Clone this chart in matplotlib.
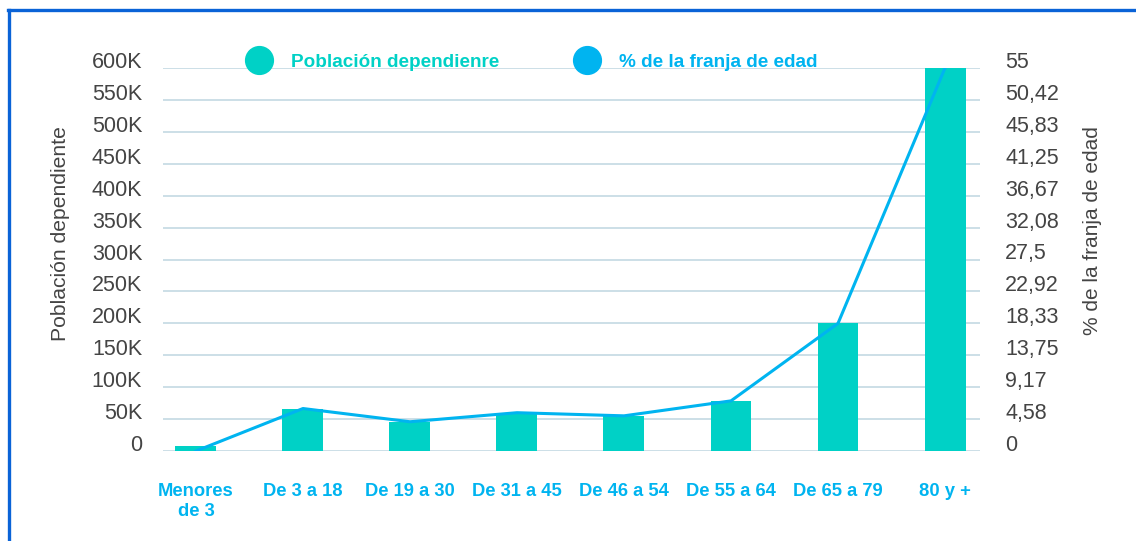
import matplotlib
matplotlib.use("Agg")
import matplotlib.pyplot as plt
from matplotlib.lines import Line2D
import numpy as np

categories = ["Menores\nde 3", "De 3 a 18", "De 19 a 30", "De 31 a 45",
              "De 46 a 54", "De 55 a 64", "De 65 a 79", "80 y +"]
poblacion = [8000, 66000, 46000, 59500, 55000, 78000, 200000, 600000]
porcentaje = [0.0, 6.1, 4.2, 5.5, 5.05, 7.2, 18.33, 55.0]

left_ticks = [0, 50000, 100000, 150000, 200000, 250000, 300000, 350000,
              400000, 450000, 500000, 550000, 600000]
left_labels = ["0", "50K", "100K", "150K", "200K", "250K", "300K", "350K",
               "400K", "450K", "500K", "550K", "600K"]
right_labels = ["0", "4,58", "9,17", "13,75", "18,33", "22,92", "27,5",
                "32,08", "36,67", "41,25", "45,83", "50,42", "55"]

BAR = "#00D1C6"
LINE = "#00B4F0"
GRID = "#C8DCE5"
TXT = "#444444"

plt.rcParams['font.family'] = ['Liberation Sans', 'DejaVu Sans']

W, H = 1136, 541
fig = plt.figure(figsize=(W / 100, H / 100), dpi=100)
ax = fig.add_axes([163 / W, 1 - 451 / H, (980 - 163) / W, (451 - 68) / H])

x = np.arange(len(categories))
ax.bar(x, poblacion, width=0.383, color=BAR, zorder=2, label="Población dependienre")
ax.set_xlim(-0.308, 7.327)
ax.set_ylim(0, 600000)
ax.set_yticks(left_ticks)
ax.set_yticklabels(left_labels)
ax.yaxis.grid(True, color=GRID, linewidth=1.3)
ax.set_axisbelow(True)
for s in ax.spines.values():
    s.set_visible(False)
ax.tick_params(axis='y', length=0, pad=15, labelsize=15.5, labelcolor=TXT)
for t in ax.get_yticklabels():
    t.set_verticalalignment('baseline')
ax.tick_params(axis='x', length=0, pad=23)
ax.set_xticks(x)
ax.set_xticklabels(categories, fontsize=13.2, fontweight='bold', color=LINE,
                   linespacing=1.25)

ax2 = ax.twinx()
ax2.plot(x, porcentaje, color=LINE, linewidth=2.2, zorder=3,
         label="% de la franja de edad")
ax2.set_ylim(0, 55)
ax2.set_yticks(np.linspace(0, 55, 13))
ax2.set_yticklabels(right_labels)
for s in ax2.spines.values():
    s.set_visible(False)
ax2.tick_params(axis='y', length=0, pad=18, labelsize=15.5, labelcolor=TXT)
for t in ax2.get_yticklabels():
    t.set_verticalalignment('baseline')

fig.text(60 / W, 1 - 234 / H, "Población dependiente", rotation=90,
         ha='center', va='center', fontsize=15.2, color=TXT)
fig.text(1092 / W, 1 - 231 / H, "% de la franja de edad", rotation=90,
         ha='center', va='center', fontsize=15, color=TXT)

handles = [Line2D([], [], linestyle='none', marker='o', markersize=20,
                  markerfacecolor=BAR, markeredgecolor=BAR),
           Line2D([], [], linestyle='none', marker='o', markersize=20,
                  markerfacecolor=LINE, markeredgecolor=LINE)]
leg = fig.legend(handles, ["Población dependienre", "% de la franja de edad"],
                 loc='center left', bbox_to_anchor=(249.5 / W, 1 - 62 / H),
                 ncol=2, frameon=False, handlelength=1.0, handletextpad=1.19,
                 columnspacing=4.16, borderpad=0, borderaxespad=0,
                 prop={'weight': 'bold', 'size': 13.6})
for t, c in zip(leg.get_texts(), [BAR, LINE]):
    t.set_color(c)

BORDER = "#0A63D7"
fig.add_artist(Line2D([8 / W, 1], [1 - 10 / H, 1 - 10 / H], color=BORDER,
                      linewidth=2.4, transform=fig.transFigure))
fig.add_artist(Line2D([9 / W, 9 / W], [1 - 10 / H, 0], color=BORDER,
                      linewidth=2.4, transform=fig.transFigure))

fig.savefig("out.png", dpi=100)
